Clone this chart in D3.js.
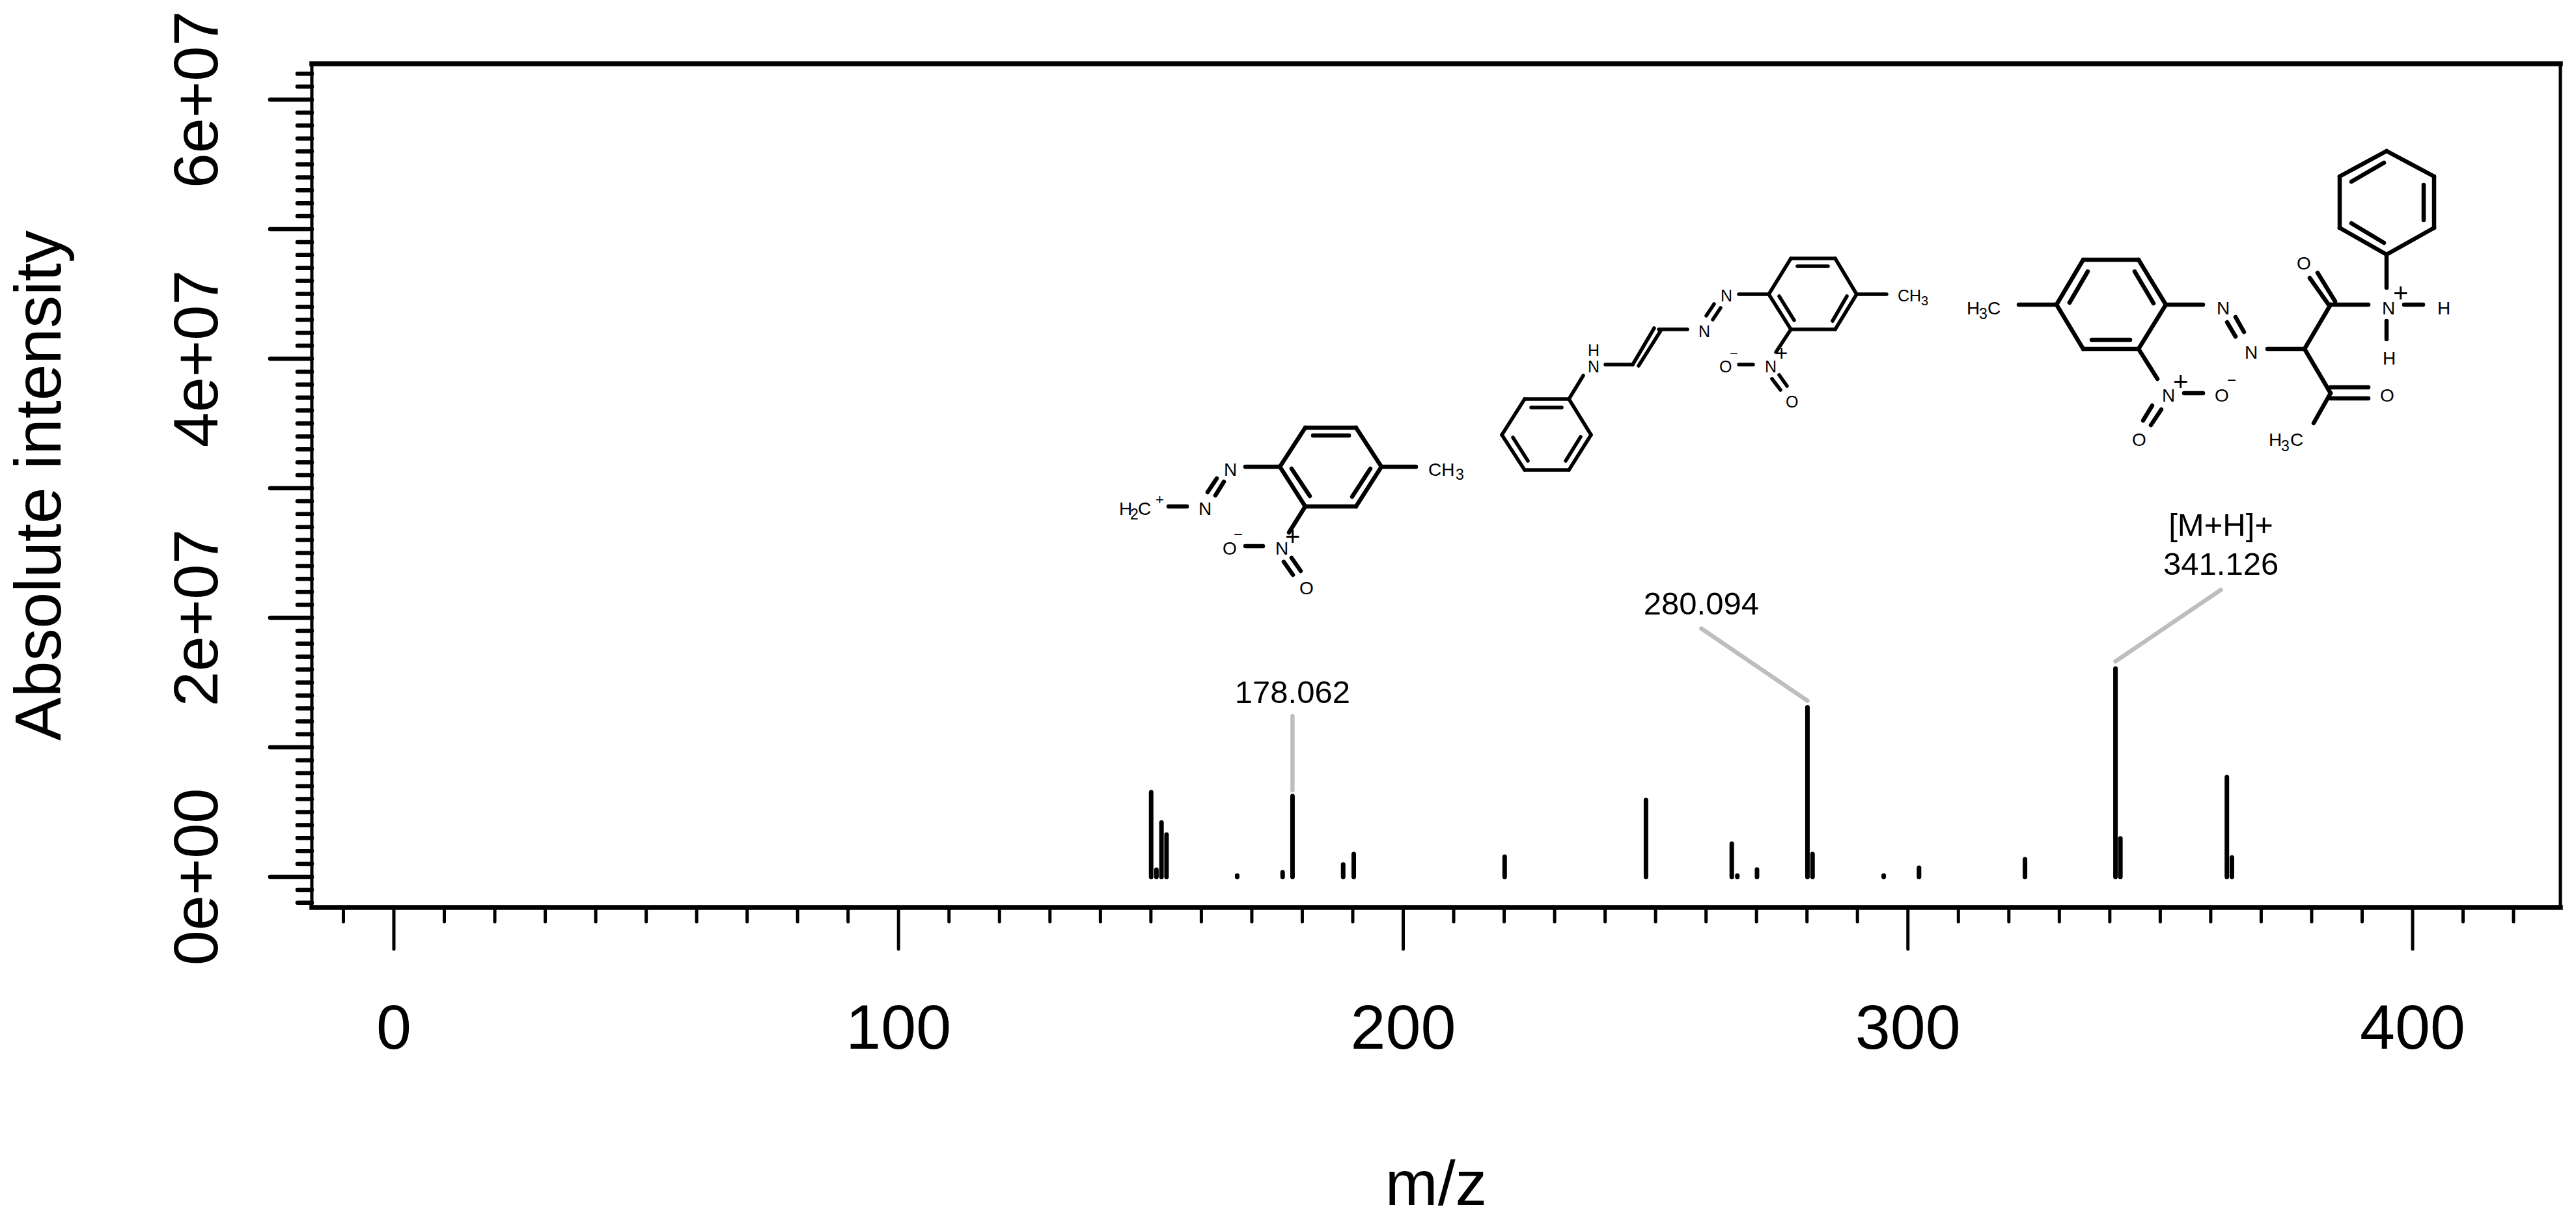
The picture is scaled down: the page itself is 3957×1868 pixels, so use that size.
<!DOCTYPE html>
<html lang="en">
<head>
  <meta charset="utf-8">
  <title>MS2 spectrum</title>
  <script src="https://d3js.org/d3.v7.min.js"></script>
  <style>
    html, body { margin: 0; padding: 0; background: #fff; overflow: hidden; }
    svg { display: block; }
    text { font-family: "Liberation Sans", Arial, sans-serif; fill: #000; }
  </style>
</head>
<body>

<svg width="3957" height="1868"></svg>

<script>
  // Peaks
  const mzValues = [150.05, 151.1, 152.1, 153.1, 167.1, 176.1, 178.062, 188.1, 190.2, 220.1,
    248.1, 265.1, 266.2, 270.1, 280.094, 281.1, 295.2, 302.2, 323.2, 341.126, 342.1, 363.2, 364.2];
  const intensities = [6.53e6, 0.55e6, 4.2e6, 3.27e6, 0.1e6, 0.35e6, 6.23e6, 0.95e6, 1.76e6, 1.56e6,
    5.93e6, 2.56e6, 0.1e6, 0.57e6, 13.09e6, 1.76e6, 0.1e6, 0.7e6, 1.36e6, 16.08e6, 2.96e6, 7.7e6, 1.5e6];

  const xMajorTicks = [0, 100, 200, 300, 400];
  const yMajorTicks = [0, 1e7, 2e7, 3e7, 4e7, 5e7, 6e7];
  const yTickLabels = ["0e+00", "", "2e+07", "", "4e+07", "", "6e+07"];

  const svg = d3.select("svg");

  // Plot box in page pixels
  const box = { left: 479, right: 3933, top: 98, bottom: 1394 };

  const x = d3.scaleLinear().domain([0, 400]).range([605, 3706]);
  const y = d3.scaleLinear().domain([0, 6e7]).range([1347, 153]);

  // Minor ticks every 10 m/z and every 1e6
  const xMinorTicks = d3.range(-10, 430, 10).filter(d => d % 100 !== 0);
  const yMinorTicks = d3.range(-2, 63).filter(d => d % 10 !== 0).map(d => d * 1e6);

  // Axes
  const xMinor = d3.axisBottom(x).tickValues(xMinorTicks).tickSize(22).tickFormat("").offset(0);
  const xMajor = d3.axisBottom(x).tickValues(xMajorTicks).tickSize(64).tickFormat(d3.format("d")).offset(0);
  const yMinor = d3.axisLeft(y).tickValues(yMinorTicks).tickSize(22).tickFormat("").offset(0);
  const yMajor = d3.axisLeft(y).tickValues(yMajorTicks).tickSize(64)
    .tickFormat((d, i) => yTickLabels[i]).offset(0);

  function styleTicks(g, width) {
    g.select(".domain").remove();
    g.selectAll("line")
      .attr("stroke", "#000")
      .attr("stroke-width", width)
      .attr("stroke-linecap", "round");
  }

  svg.append("g").attr("transform", `translate(0,${box.bottom})`).call(xMinor).call(styleTicks, 5);
  const xAxisG = svg.append("g").attr("transform", `translate(0,${box.bottom})`).call(xMajor).call(styleTicks, 5);
  svg.append("g").attr("transform", `translate(${box.left},0)`).call(yMinor).call(styleTicks, 6.5);
  const yAxisG = svg.append("g").attr("transform", `translate(${box.left},0)`).call(yMajor).call(styleTicks, 6.5);

  xAxisG.selectAll("text")
    .attr("y", 217).attr("dy", 0)
    .attr("text-anchor", "middle")
    .attr("font-size", 97);

  yAxisG.selectAll("text")
    .attr("x", 0).attr("y", 0).attr("dy", 0)
    .attr("text-anchor", "middle")
    .attr("transform", "translate(-145,0) rotate(-90)")
    .attr("font-size", 97);

  // Box: horizontal sides come out thicker than vertical ones in the reference
  svg.append("path")
    .attr("d", `M${box.left},${box.top}V${box.bottom}M${box.right},${box.top}V${box.bottom}`)
    .attr("stroke", "#000").attr("stroke-width", 5).attr("stroke-linecap", "square");
  svg.append("path")
    .attr("d", `M${box.left},${box.top}H${box.right}M${box.left},${box.bottom}H${box.right}`)
    .attr("stroke", "#000").attr("stroke-width", 7.5).attr("stroke-linecap", "square");

  // Axis titles
  svg.append("text")
    .attr("x", (box.left + box.right) / 2).attr("y", 1851)
    .attr("text-anchor", "middle").attr("font-size", 97)
    .text("m/z");
  svg.append("text")
    .attr("transform", `translate(93,${(box.top + box.bottom) / 2}) rotate(-90)`)
    .attr("text-anchor", "middle").attr("font-size", 100)
    .text("Absolute intensity");

  // Spectrum
  svg.append("g").selectAll("line")
    .data(mzValues)
    .join("line")
    .attr("x1", d => x(d))
    .attr("x2", d => x(d))
    .attr("y1", y(0))
    .attr("y2", (d, i) => y(intensities[i]))
    .attr("stroke", "#000")
    .attr("stroke-width", 7)
    .attr("stroke-linecap", "round");

  // Peak annotations, offsets are relative to the peak top
  const annotatedMz = [178.062, 280.094, 341.126];
  const annotationLines = [
    ["178.062"],
    ["280.094"],
    ["[M+H]+", "341.126"]
  ];
  const leaderStartDy = [-9, -10, -11];
  const leaderEndDx = [0, -163, 162];
  const leaderEndDy = [-123, -121, -121];
  const labelBaselineDy = [-143, -143, -144];

  annotatedMz.forEach((mz, i) => {
    const value = intensities[mzValues.indexOf(mz)];
    const px = x(mz), py = y(value);
    svg.append("line")
      .attr("x1", px).attr("y1", py + leaderStartDy[i])
      .attr("x2", px + leaderEndDx[i]).attr("y2", py + leaderEndDy[i])
      .attr("stroke", "#bebebe").attr("stroke-width", 6.5).attr("stroke-linecap", "round");
    const lines = annotationLines[i];
    lines.forEach((t, j) => {
      svg.append("text")
        .attr("x", px + leaderEndDx[i])
        .attr("y", py + labelBaselineDy[i] - (lines.length - 1 - j) * 60)
        .attr("text-anchor", "middle").attr("font-size", 49)
        .text(t);
    });
  });

  // Structure insets: [x1, y1, x2, y2] bonds and [text, x, baseline, size] atom labels
  const frag178Bonds = [
    [2005,657,2083,657],[2083,657,2122,717],[2122,717,2083,778],[2083,778,2005,778],[2005,778,1966,717],[1966,717,2005,657],
    [2017,669,2072,669],[1984,720,2012,762],[2105,720,2077,763],
    [2122,717,2175,717],[1966,717,1913,717],[1795,778,1823,778],
    [1869,735,1855,756],[1880,740,1867,761],
    [2005,778,1980,818],[1913,839,1940,839],[1972,863,1986,883],[1984,857,1998,877]
  ];
  const frag178Labels = [
    ["CH",2194,731,28],["3",2236,737,23],["N",1880,731,28],["N",1841,791,28],
    ["H",1719,791,28],["2",1736,798,23],["C",1748,791,28],["+",1775,775,22],
    ["N",1959,852,28],["+",1974,838,40],["O",1878,852,28],["\u2212",1895,829,24],["O",1996,913,28]
  ];

  const frag280Bonds = [
    [2751,397,2819,397],[2819,397,2852,452],[2852,452,2819,506],[2819,506,2751,506],[2751,506,2717,452],[2717,452,2751,397],
    [2761,409,2808,409],[2733,455,2756,492],[2837,455,2815,493],
    [2852,452,2898,452],[2717,452,2671,452],
    [2633,467,2621,485],[2643,473,2631,491],
    [2592,506,2548,506],[2541,504,2508,560],[2551,508,2517,562],
    [2508,560,2466,560],[2432,577,2410,613],
    [2342,613,2410,613],[2410,613,2444,668],[2444,668,2410,722],[2410,722,2342,722],[2342,722,2307,668],[2307,668,2342,613],
    [2352,626,2399,626],[2324,672,2347,708],[2428,671,2405,708],
    [2751,506,2728,541],[2671,560,2693,560],[2722,582,2735,599],[2733,576,2745,593]
  ];
  const frag280Labels = [
    ["CH",2915,463,25],["3",2951,469,20],["N",2643,463,25],["N",2609,518,25],
    ["H",2439,547,25],["N",2439,572,25],
    ["N",2711,572,25],["+",2727,554,33],["O",2641,572,25],["\u2212",2657,550,22],["O",2743,626,25]
  ];

  const frag341Bonds = [
    [3200,399,3285,399],[3285,399,3327,468],[3327,468,3285,536],[3285,536,3200,536],[3200,536,3159,468],[3159,468,3200,399],
    [3213,522,3272,522],[3207,417,3179,465],[3279,417,3308,466],
    [3159,468,3101,468],[3327,468,3384,468],
    [3421,495,3434,517],[3434,487,3447,510],
    [3483,536,3540,536],[3540,536,3580,468],[3540,536,3580,604],
    [3577,468,3548,427],[3587,463,3560,419],
    [3580,468,3638,468],[3693,468,3722,468],[3666,493,3666,521],[3666,442,3666,392],
    [3666,232,3739,271],[3739,271,3739,350],[3739,350,3666,391],[3666,391,3594,350],[3594,350,3594,271],[3594,271,3666,232],
    [3662,250,3612,279],[3723,284,3723,338],[3612,343,3662,373],
    [3580,595,3638,595],[3580,612,3638,612],[3580,604,3554,650],
    [3285,536,3314,582],[3355,604,3384,604],[3306,623,3292,646],[3320,629,3304,653]
  ];
  const frag341Labels = [
    ["H",3021,483,28],["3",3040,490,23],["C",3053,483,28],
    ["N",3405,483,28],["N",3448,551,28],["O",3528,414,28],
    ["N",3659,483,28],["+",3676,464,40],["H",3744,483,28],["H",3660,560,28],
    ["O",3656,617,28],["H",3485,685,28],["3",3504,693,23],["C",3518,685,28],
    ["N",3321,617,28],["+",3338,600,40],["O",3402,617,28],["\u2212",3421,592,24],["O",3275,685,28]
  ];

  function drawStructure(bonds, labels, bondWidth) {
    const g = svg.append("g");
    g.selectAll("line")
      .data(bonds)
      .join("line")
      .attr("x1", d => d[0]).attr("y1", d => d[1])
      .attr("x2", d => d[2]).attr("y2", d => d[3])
      .attr("stroke", "#000")
      .attr("stroke-width", bondWidth)
      .attr("stroke-linecap", "round");
    g.selectAll("text")
      .data(labels)
      .join("text")
      .attr("x", d => d[1]).attr("y", d => d[2])
      .attr("font-size", d => d[3])
      .text(d => d[0]);
  }

  drawStructure(frag178Bonds, frag178Labels, 6.5);
  drawStructure(frag280Bonds, frag280Labels, 5.5);
  drawStructure(frag341Bonds, frag341Labels, 6.5);
</script>
</body>
</html>
